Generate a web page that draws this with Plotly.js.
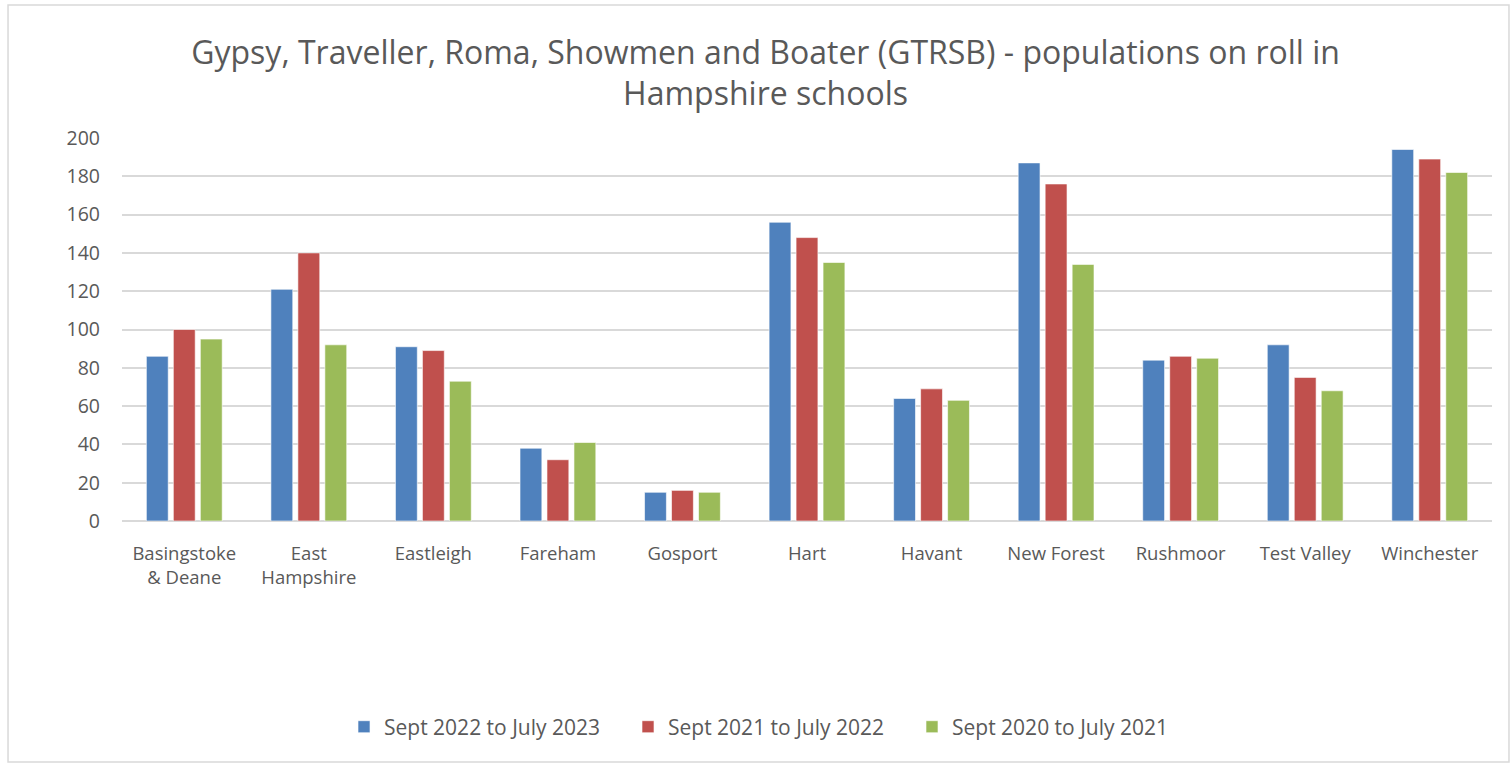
<!DOCTYPE html>
<html>
<head>
<meta charset="utf-8">
<script src="https://cdn.plot.ly/plotly-3.0.1.min.js"></script>
<style>html,body{margin:0;padding:0;background:#fff;}#chart{width:1510px;height:763px;}</style>
</head>
<body>
<div id="chart"></div>
<script>
const categories = ["Basingstoke<br>& Deane", "East<br>Hampshire", "Eastleigh", "Fareham", "Gosport", "Hart", "Havant", "New Forest", "Rushmoor", "Test Valley", "Winchester"];
const seriesNames = ["Sept 2022 to July 2023", "Sept 2021 to July 2022", "Sept 2020 to July 2021"];
const values2223 = [86, 121, 91, 38, 15, 156, 64, 187, 84, 92, 194];
const values2122 = [100, 140, 89, 32, 16, 148, 69, 176, 86, 75, 189];
const values2021 = [95, 92, 73, 41, 15, 135, 63, 134, 85, 68, 182];
const colors = ["#4F81BD", "#C0504D", "#9BBB59"];

const allValues = [values2223, values2122, values2021];
const traces = allValues.map((v, i) => ({
  type: "bar",
  name: seriesNames[i],
  x: categories,
  y: v,
  marker: {color: colors[i], line: {color: "rgba(255,255,255,0.6)", width: 1}},
  hoverinfo: "x+y+name"
}));

const font = "'Open Sans', 'Noto Sans', sans-serif";
const layout = {
  width: 1510,
  height: 763,
  margin: {l: 122, r: 18, t: 138, b: 242},
  paper_bgcolor: "#ffffff",
  plot_bgcolor: "#ffffff",
  font: {family: font, color: "#595959", size: 18},
  title: {
    text: "Gypsy, Traveller, Roma, Showmen and Boater (GTRSB) - populations on roll in<br>Hampshire schools",
    font: {family: font, size: 32, color: "#595959"},
    x: 0.507, xref: "container", xanchor: "center",
    y: 0.9165, yref: "container", yanchor: "middle"
  },
  barmode: "group",
  bargap: 0.35,
  bargroupgap: 0.19,
  xaxis: {
    type: "category",
    showgrid: false,
    showline: false,
    zeroline: false,
    ticks: "",
    tickfont: {family: font, size: 18.5, color: "#595959"},
    ticklabelstandoff: 19
  },
  yaxis: {
    range: [0, 200],
    dtick: 20,
    tick0: 0,
    showgrid: true,
    gridcolor: "#D9D9D9",
    gridwidth: 1.5,
    zeroline: true,
    zerolinecolor: "#D9D9D9",
    zerolinewidth: 1.5,
    showline: false,
    ticks: "",
    tickfont: {family: font, size: 19.5, color: "#595959"},
    ticklabelstandoff: 21
  },
  legend: {
    orientation: "h",
    x: 0.473, xanchor: "center",
    y: -0.538, yanchor: "middle",
    font: {family: font, size: 21, color: "#595959"},
    itemwidth: 30,
    entrywidth: 239,
    traceorder: "normal"
  },
  shapes: [{
    type: "rect", xref: "paper", yref: "paper",
    x0: -0.0832, x1: 1.0124, y0: -0.629, y1: 1.347,
    line: {color: "#D9D9D9", width: 1.5}, fillcolor: "rgba(0,0,0,0)", layer: "below"
  }]
};

Plotly.newPlot("chart", traces, layout, {displayModeBar: false, responsive: false});
</script>
</body>
</html>
